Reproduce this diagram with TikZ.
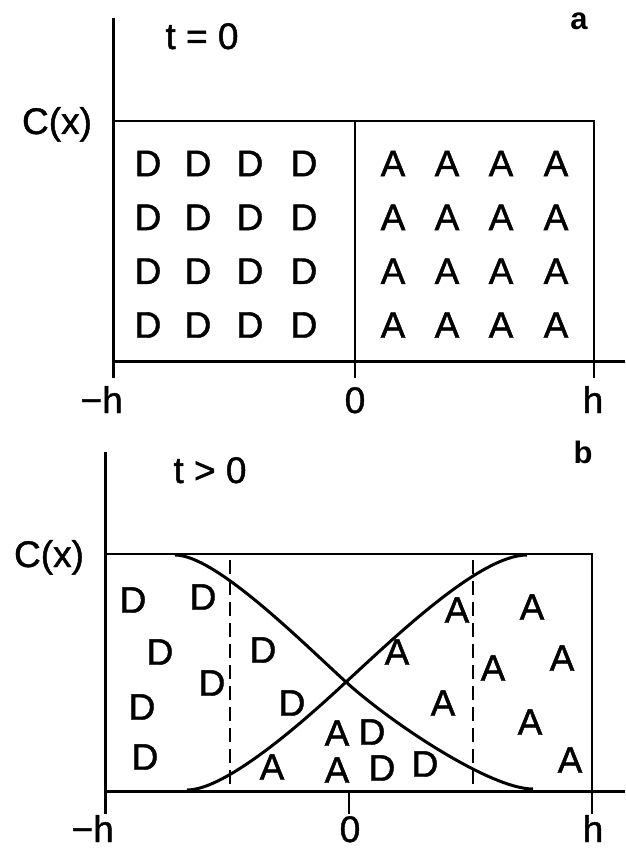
\documentclass[tikz,border=0pt]{standalone}
\usepackage{fontspec}
\setmainfont{Liberation Sans}
\newfontfamily\heavyfont[FakeBold=1.2]{Liberation Sans}
\begin{document}
\begin{tikzpicture}[x=1pt,y=-1pt,
  lett/.style={inner sep=0pt,font=\heavyfont\fontsize{37}{40}\selectfont},
  lbl/.style={inner sep=0pt,anchor=base,font=\heavyfont\fontsize{37}{40}\selectfont},
  tag/.style={inner sep=0pt,anchor=base,font=\fontsize{31}{34}\selectfont\bfseries},
  axisline/.style={line width=3pt},
  boxline/.style={line width=2.4pt},
  divline/.style={line width=1.8pt},
  curve/.style={line width=3pt},
  dashline/.style={line width=1.8pt,dash pattern=on 14pt off 7pt}]
\useasboundingbox (0,0) rectangle (625,850);

% ---------- panel a ----------
\coordinate (aTop) at (113,18);
\coordinate (aBL) at (113,378);
\coordinate (aO) at (113,361);
\coordinate (aEnd) at (625,361);
\coordinate (aTL) at (113,121);
\coordinate (aTR) at (594,121);
\coordinate (aBR) at (594,378);
\coordinate (aMT) at (355,121);
\coordinate (aMB) at (355,378);
\draw[axisline] (aTop) -- (aBL);
\draw[axisline] (aO) -- (aEnd);
\draw[boxline] (aTL) -- (aTR) -- (aBR);
\draw[divline] (aMT) -- (aMB);

\node[lbl] (aC) at (57,134) {C(x)};
\node[lbl] (at) at (202,49) {t = 0};
\node[tag] (aa) at (579,30) {a};
\node[lbl,anchor=base east] (amh) at (123,413) {−h};
\node[lbl] (a0) at (355,413) {0};
\node[lbl] (ah) at (593,413) {h};

\foreach \r/\y in {1/163.5,2/217.3,3/271.2,4/325}{
  \foreach \c/\x in {1/148,2/198,3/250,4/304}{
    \node[lett] (aD\r\c) at (\x,\y) {D};
  }
  \foreach \c/\x in {1/393,2/447,3/501,4/556}{
    \node[lett] (aA\r\c) at (\x,\y) {A};
  }
}

% ---------- panel b ----------
\coordinate (bTop) at (105.5,452);
\coordinate (bBL) at (105.5,814);
\coordinate (bO) at (105.5,791);
\coordinate (bEnd) at (625,791);
\coordinate (bTL) at (105.5,554);
\coordinate (bTR) at (592,554);
\coordinate (bBR) at (592,814);
\coordinate (bMT) at (349,791);
\coordinate (bMB) at (349,814);
\draw[axisline] (bTop) -- (bBL);
\draw[axisline] (bO) -- (bEnd);
\draw[boxline] (bTL) -- (bTR) -- (bBR);
\draw[divline] (bMT) -- (bMB);

\coordinate (dl1) at (230,560);
\coordinate (dl2) at (230,790);
\coordinate (dr1) at (473,560);
\coordinate (dr2) at (473,790);
\draw[dashline] (dl1) -- (dl2);
\draw[dashline] (dr1) -- (dr2);

\coordinate (cx) at (346,682);
\draw[curve] (175,555) .. controls (215,555) and (300,640) .. (cx)
             .. controls (390,722) and (490,789) .. (533,789);
\draw[curve] (187,790) .. controls (225,790) and (300,725) .. (cx)
             .. controls (395,637) and (480,555) .. (527,555);

\node[lbl] (bC) at (49,567) {C(x)};
\node[lbl] (bt) at (210,483) {t > 0};
\node[tag] (bb) at (583,463) {b};
\node[lbl,anchor=base east] (bmh) at (114,842) {−h};
\node[lbl] (b0) at (350,842) {0};
\node[lbl] (bh) at (593,842) {h};

\foreach \i/\x/\y in {1/133/600,2/203/597,3/160/652,4/263/650,5/212/683,
                      6/142/707,7/292/703,8/145/757,9/372/732,10/382/768,11/425/764}{
  \node[lett] (bD\i) at (\x,\y) {D};
}
\foreach \i/\x/\y in {1/457/610,2/532/607,3/397/652,4/493/668,5/562/658,
                      6/443/703,7/530/722,8/570/760,9/337/733,10/272/767,11/337/770}{
  \node[lett] (bA\i) at (\x,\y) {A};
}
\end{tikzpicture}
\end{document}
